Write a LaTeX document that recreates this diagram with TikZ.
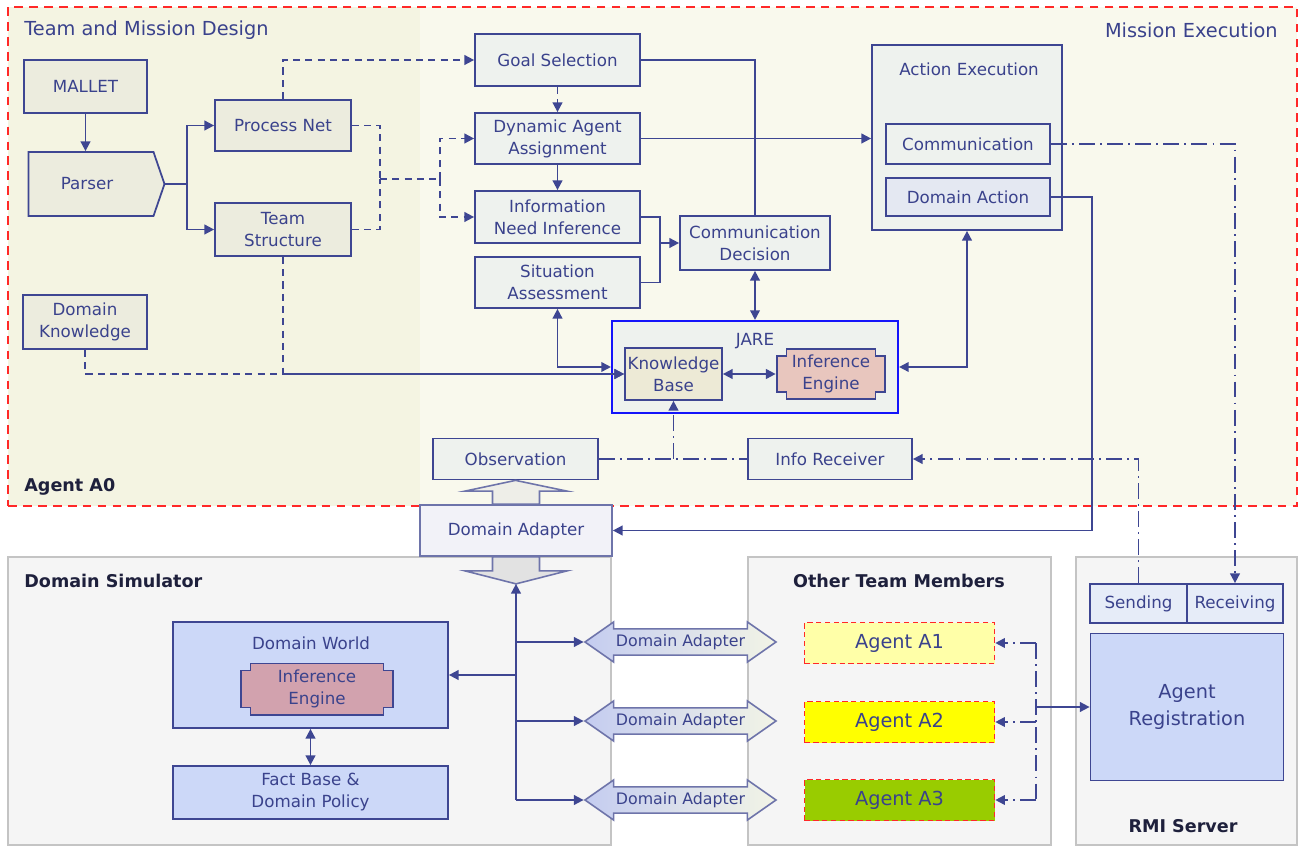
\documentclass[tikz,border=0pt]{standalone}
\usepackage{fontspec}
\setmainfont{DejaVu Sans}
\usetikzlibrary{shapes.arrows, shapes.symbols, arrows.meta, calc}

\definecolor{linec}{RGB}{62,70,146}
\definecolor{textc}{RGB}{58,66,140}
\definecolor{headc}{RGB}{30,32,60}
\definecolor{designbg}{RGB}{244,244,226}
\definecolor{execbg}{RGB}{249,249,237}
\definecolor{designfill}{RGB}{236,236,222}
\definecolor{execfill}{RGB}{238,242,238}
\definecolor{kbfill}{RGB}{237,234,214}
\definecolor{iefill}{RGB}{232,198,190}
\definecolor{actfill}{RGB}{228,232,242}
\definecolor{dafill}{RGB}{242,242,248}
\definecolor{adaptline}{RGB}{110,116,170}
\definecolor{panelfill}{RGB}{245,245,245}
\definecolor{panelline}{RGB}{196,196,196}
\definecolor{simfill}{RGB}{204,216,248}
\definecolor{dwiefill}{RGB}{210,162,174}
\definecolor{jareblue}{RGB}{20,20,250}
\definecolor{agentred}{RGB}{255,40,40}
\definecolor{aone}{RGB}{255,255,168}
\definecolor{atwo}{RGB}{255,255,0}
\definecolor{athree}{RGB}{153,204,0}
\definecolor{adleft}{RGB}{196,204,240}
\definecolor{adright}{RGB}{242,244,230}
\definecolor{sendfill}{RGB}{230,236,248}
\definecolor{upfill}{RGB}{238,238,232}
\definecolor{downfill}{RGB}{226,226,226}

\begin{document}
\begin{tikzpicture}[
        x=0.2mm, y=-0.2mm,
        font=\fontsize{9.5}{12.5}\selectfont,
        text=textc,
        >={Triangle[length=5.5pt,width=5.5pt]},
        % Define styles for the nodes
        sz/.style 2 args={minimum width=#1*0.2mm, minimum height=#2*0.2mm},
        box/.style={rectangle, draw=linec, line width=1pt, inner sep=0pt, align=center},
        designbox/.style={box, fill=designfill},
        execbox/.style={box, fill=execfill},
        simbox/.style={box, fill=simfill},
        agentbox/.style={rectangle, draw=agentred, dash pattern=on 3pt off 2pt, line width=0.9pt, inner sep=0pt, font=\fontsize{11}{13}\selectfont},
        panel/.style={rectangle, draw=panelline, line width=0.9pt, fill=panelfill, inner sep=0pt},
        region/.style={rectangle, inner sep=0pt, draw=none},
        areatitle/.style={inner sep=0pt, font=\fontsize{11}{13}\selectfont},
        boldtitle/.style={inner sep=0pt, font=\fontsize{10}{12}\selectfont\bfseries, text=headc},
        notched/.style={rectangle, inner sep=0pt, align=center, path picture={
            \draw[fill=#1, draw=linec, line width=1pt]
              let \p1=(path picture bounding box.south west), \p2=(path picture bounding box.north east) in
              (\x1+6pt,\y2-0.5pt) -- (\x2-6pt,\y2-0.5pt) -- (\x2-6pt,\y2-4.5pt) -- (\x2-0.5pt,\y2-4.5pt)
              -- (\x2-0.5pt,\y1+4.5pt) -- (\x2-6pt,\y1+4.5pt) -- (\x2-6pt,\y1+0.5pt) -- (\x1+6pt,\y1+0.5pt)
              -- (\x1+6pt,\y1+4.5pt) -- (\x1+0.5pt,\y1+4.5pt) -- (\x1+0.5pt,\y2-4.5pt) -- (\x1+6pt,\y2-4.5pt) -- cycle;}},
        adapter/.style={double arrow, double arrow tip angle=70, double arrow head extend=0.9mm, minimum width=8mm, minimum height=38.2mm, inner sep=0pt, draw=adaptline, line width=0.9pt, left color=adleft, right color=adright, font=\fontsize{9}{11}\selectfont},
        blockarrow/.style={draw=adaptline, line width=0.9pt, fill=#1},
        wire/.style={draw=linec, line width=1pt},
        flow/.style={wire, ->},
        dflow/.style={flow, dash pattern=on 4pt off 3pt},
        dotflow/.style={flow, dash pattern=on 9pt off 3pt on 1pt off 3pt}
    ]

        \path[use as bounding box, fill=white] (0,0) rectangle (1299,846);

        % --- Areas ---
        \node[region, sz={412}{499}, fill=designbg] (design) at (214,256.5) {};
        \node[region, sz={877}{499}, fill=execbg] (execution) at (858.5,256.5) {};
        \node[region, sz={1289}{499}, draw=agentred, dash pattern=on 5pt off 3.5pt, line width=1.1pt] (agentzero) at (652.5,256.5) {};
        \node[areatitle, anchor=west] (designtitle) at (24,30) {Team and Mission Design};
        \node[areatitle, anchor=east] (exectitle) at (1278,30) {Mission Execution};
        \node[boldtitle, anchor=west] (agenttitle) at (24,487) {Agent A0};

        \node[panel, sz={603}{288}] (domsim) at (309.5,701) {};
        \node[panel, sz={303}{288}] (others) at (899.5,701) {};
        \node[panel, sz={221}{288}] (rmi) at (1186.5,701) {};
        \node[boldtitle, anchor=west] (domsimtitle) at (24,581) {Domain Simulator};
        \node[boldtitle] (otherstitle) at (899,581) {Other Team Members};
        \node[boldtitle] (rmititle) at (1183,826) {RMI Server};

        % --- Team and mission design ---
        \node[designbox, sz={123}{53}] (mallet) at (85.5,86.5) {MALLET};
        \node[designbox, signal, signal to=east, signal pointer angle=142, sz={136}{64}] (parser) at (91,184) {Parser\hspace*{1.6mm}};
        \node[designbox, sz={136}{51}] (procnet) at (283,125.5) {Process Net};
        \node[designbox, sz={136}{53}] (teamstruct) at (283,229.5) {Team\\Structure};
        \node[designbox, sz={124}{54}] (domknow) at (85,322) {Domain\\Knowledge};

        % --- Mission execution ---
        \node[execbox, sz={165}{52}] (goalsel) at (557.5,60) {Goal Selection};
        \node[execbox, sz={165}{51}] (agentassign) at (557.5,138.5) {Dynamic Agent\\Assignment};
        \node[execbox, sz={165}{52}] (needinf) at (557.5,217) {Information\\Need Inference};
        \node[execbox, sz={165}{51}] (sitass) at (557.5,282.5) {Situation\\Assessment};
        \node[execbox, sz={150}{54}] (commdec) at (755,243) {Communication\\Decision};

        \node[execbox, sz={286}{92}, draw=jareblue, line width=1.2pt] (jare) at (755,367) {};
        \node[inner sep=0pt] (jaretitle) at (755,341) {JARE};
        \node[box, fill=kbfill, sz={97}{52}] (kb) at (673.5,374) {Knowledge\\Base};
        \node[notched=iefill, sz={110}{52}] (jareie) at (831,374) {Inference\\Engine};

        \node[execbox, sz={190}{185}] (actexec) at (967,137.5) {};
        \node[inner sep=0pt] (actexectitle) at (969,69) {Action Execution};
        \node[execbox, sz={164}{40}] (comm) at (968,144) {Communication};
        \node[box, fill=actfill, sz={164}{38}] (domact) at (968,197) {Domain Action};

        \node[execbox, sz={165}{41}] (obs) at (515.5,459) {Observation};
        \node[execbox, sz={164}{41}] (inforec) at (830,459) {Info Receiver};
        \node[box, draw=adaptline, fill=dafill, sz={192}{51}] (domadapt) at (516,530.5) {Domain Adapter};
        \coordinate (datip) at ($(domadapt.south)+(0,27)$);

        % --- Domain simulator ---
        \node[simbox, sz={275}{106}] (domworld) at (310.5,675) {};
        \node[inner sep=0pt] (dwtitle) at (311,643) {Domain World};
        \node[notched=dwiefill, sz={154}{53}] (dwie) at (317,689) {Inference\\Engine};
        \node[simbox, sz={275}{53}] (factbase) at (310.5,792.5) {Fact Base \&\\Domain Policy};

        % --- Team members and server ---
        \foreach \y/\n in {642/one, 721/two, 800/three}
            \node[adapter] (adapt\n) at (680.5,\y) {Domain Adapter};
        \node[agentbox, fill=aone, sz={190}{41}] (agentone) at (899.5,643) {Agent A1};
        \node[agentbox, fill=atwo, sz={190}{41}] (agenttwo) at (899.5,722) {Agent A2};
        \node[agentbox, fill=athree, sz={190}{41}] (agentthree) at (899.5,800) {Agent A3};
        \node[box, fill=sendfill, sz={97}{39}] (sending) at (1138.5,603.5) {Sending};
        \node[box, fill=sendfill, sz={96}{39}] (receiving) at (1235,603.5) {Receiving};
        \node[simbox, sz={193}{147}, font=\fontsize{11}{15}\selectfont] (agentreg) at (1187,707) {Agent\\Registration};

        % --- Block arrows ---
        \draw[blockarrow=upfill] ($(domadapt.north)+(-23.5,0)$) -- ++(0,-13) -- ++(-27.5,0) -- (obs.south)
            -- ($(domadapt.north)+(51,-13)$) -- ++(-27.5,0) -- ++(0,13) -- cycle;
        \draw[blockarrow=downfill] ($(domadapt.south)+(-23.5,0)$) -- ++(0,14) -- ++(-27.5,0) -- (datip)
            -- ($(domadapt.south)+(51,14)$) -- ++(-27.5,0) -- ++(0,-14) -- cycle;

        % --- Edges ---
        \draw[flow] (mallet) -- (mallet |- parser.north);
        \coordinate (psplit) at (187,184);
        \draw[wire] (parser.east) -- (psplit);
        \draw[flow] (psplit) |- (procnet.west);
        \draw[flow] (psplit) |- (teamstruct.west);

        \draw[dflow] (procnet.north) |- (goalsel.west);
        \coordinate (dmerge) at (380,179);
        \coordinate (dsplit) at (440,179);
        \draw[dflow, -] (procnet.east) -| (dmerge);
        \draw[dflow, -] (teamstruct.east) -| (dmerge);
        \draw[dflow, -] (dmerge) -- (dsplit);
        \draw[dflow] (dsplit) |- (agentassign.west);
        \draw[dflow] (dsplit) |- (needinf.west);
        \draw[dflow] (teamstruct.south) |- (kb.west);
        \draw[dflow] (domknow.south) |- (kb.west);

        \draw[dflow] (goalsel) -- (agentassign);
        \draw[flow] (agentassign) -- (needinf);
        \draw[wire] (goalsel.east) -| (commdec.north);
        \draw[flow] (agentassign.east) -- (agentassign.east -| actexec.west);
        \coordinate (cdin) at (660,243);
        \draw[wire] (needinf.east) -| (cdin);
        \draw[wire] (sitass.east) -| (cdin);
        \draw[flow] (cdin) -- (commdec.west);

        \draw[flow, <->] (sitass.south) |- (jare.west);
        \draw[flow, <->] (commdec) -- (jare);
        \draw[flow, <->] (kb) -- (jareie);
        \draw[flow, <->] (jare.east) -| (actexec.south);

        \draw[dotflow, -] (obs.east) -- (inforec.west);
        \draw[dotflow] (obs.east -| kb.south) -- (kb.south);
        \draw[dotflow] (sending.north) |- (inforec.east);
        \draw[dotflow] (comm.east) -| (receiving.north);
        \draw[flow] (domact.east) -- ++(41,0) |- (domadapt.east);

        \coordinate (busbottom) at (516,800);
        \draw[flow] (busbottom) -- (datip);
        \draw[flow] (datip |- domworld.east) -- (domworld.east);
        \foreach \n in {one,two,three}
            \draw[flow] (busbottom |- adapt\n.west) -- (adapt\n.west);
        \draw[flow, <->] (domworld) -- (factbase);

        \coordinate (agentbus) at (1036,722);
        \draw[dotflow, -] (agentbus |- agentone.east) -- (agentbus |- agentthree.east);
        \foreach \n in {one,two,three}
            \draw[dotflow] (agentbus |- agent\n.east) -- (agent\n.east);
        \draw[flow] (agentbus |- agentreg.west) -- (agentreg.west);

    \end{tikzpicture}
\end{document}
